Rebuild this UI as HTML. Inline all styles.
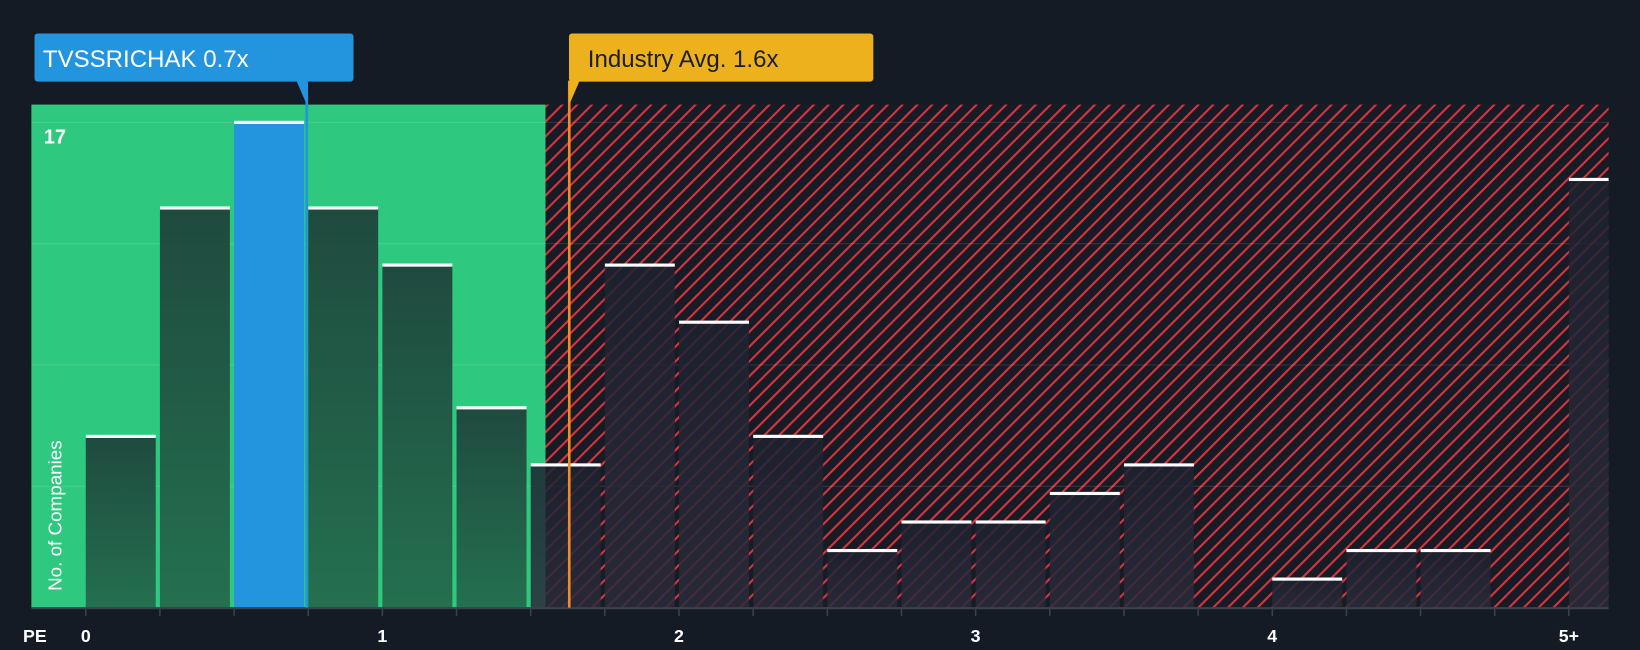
<!DOCTYPE html>
<html><head><meta charset="utf-8"><style>
html,body{margin:0;padding:0;background:#151b24;}
svg{display:block;font-family:"Liberation Sans",sans-serif;}
</style></head><body>
<svg id="c" width="1640" height="650" viewBox="0 0 1568 621.5" preserveAspectRatio="none">
<defs>
<pattern id="hatch" patternUnits="userSpaceOnUse" width="10" height="10" patternTransform="rotate(45)">
<rect width="10" height="10" fill="#171b25"/>
<rect x="0" y="0" width="2" height="10" fill="#d8343c"/>
</pattern>
<linearGradient id="gbar" x1="0" y1="0" x2="0" y2="1"><stop offset="0" stop-color="#1f4a3f"/><stop offset="1" stop-color="#24704f"/></linearGradient>
<linearGradient id="rbar" x1="0" y1="0" x2="0" y2="1"><stop offset="0" stop-color="#1d2230" stop-opacity="0.85"/><stop offset="1" stop-color="#2a2b3a" stop-opacity="0.85"/></linearGradient>
</defs>
<g id="g"></g>
</svg>
<script>
const binStarts = [0,0.25,0.5,0.75,1,1.25,1.5,1.75,2,2.25,2.5,2.75,3,3.25,3.5,3.75,4,4.25,4.5,4.75,5];
const counts = [6,14,17,14,12,7,5,12,10,6,2,3,3,4,5,0,1,2,2,0,15];
const xTicks = [0,1,2,3,4,5];
const xTickLabels = ["0","1","2","3","4","5+"];
const yMax = 17;
const companyPE = 0.745;
const industryPE = 1.63;
const greenLimit = 1.55;

const L=30,R=1538,T=100,B=581;
const X=v=>82+v*283.6;
const Y=v=>B-v*(B-117)/yMax;
const ns="http://www.w3.org/2000/svg";
const g=document.getElementById('g');
function el(t,a,p){const e=document.createElementNS(ns,t);for(const k in a)e.setAttribute(k,a[k]);(p||g).appendChild(e);return e;}

let r=el('rect',{x:L,y:T,width:X(greenLimit)-L,height:B-T,fill:'#2ec97f'});


r=el('rect',{x:X(greenLimit),y:T,width:R-X(greenLimit),height:B-T,fill:'url(#hatch)'});



for(let i=0;i<=4;i++){const v=yMax*i/4;const l=el('line',{x1:L,x2:R,y1:Y(v),y2:Y(v),stroke:'rgba(255,255,255,0.12)','stroke-width':1});

}

const bw=0.25*283.6-4;
binStarts.forEach((s,i)=>{
  const x=X(s), v=counts[i]; if(v<=0) return;
  const w=Math.min(bw,R-x);
  const inGreen=x+bw<=X(greenLimit)+1;
  const isCo = companyPE>=s && companyPE<s+0.25;
  const fill=isCo?'#2394de':(inGreen?'url(#gbar)':'url(#rbar)');
  const b=el('rect',{x:x,y:Y(v),width:w,height:B-Y(v),fill:fill});
  
  
  const c=el('rect',{x:x,y:Y(v)-1.5,width:w,height:3,fill:'#ffffff'});
  
  
});

let t=el('text',{x:42,y:137,fill:'#fff','font-size':19,'font-weight':'bold'});t.textContent=String(yMax);


t=el('text',{x:0,y:0,fill:'#fff','font-size':18,transform:'translate(59,565) rotate(-90)'});t.textContent='No. of Companies';



let ax=el('line',{x1:L,x2:R,y1:B+0.5,y2:B+0.5,stroke:'#3a404c','stroke-width':2});


for(let i=0;i<=20;i++){const tk=el('line',{x1:X(i*0.25),x2:X(i*0.25),y1:B,y2:B+8,stroke:'#3a404c','stroke-width':1.5});

}
xTicks.forEach((v,i)=>{const tx=el('text',{x:X(v),y:614,fill:'#fff','font-size':17,'font-weight':'bold','text-anchor':'middle'});tx.textContent=xTickLabels[i];

});
t=el('text',{x:22,y:614,fill:'#fff','font-size':17,'font-weight':'bold'});t.textContent='PE';



const cx=X(companyPE);
let ln=el('line',{x1:cx,x2:cx,y1:78,y2:B,stroke:'#2394de','stroke-width':2.5});


let bx=el('rect',{x:33,y:32,width:305,height:46,rx:3,fill:'#2394de'});


let pt=el('polygon',{points:`${cx-10},77 ${cx},77 ${cx},100`,fill:'#2394de'});


t=el('text',{x:41,y:64,fill:'#fff','font-size':23});t.textContent='TVSSRICHAK 0.7x';



const ix=X(industryPE);
ln=el('line',{x1:ix,x2:ix,y1:78,y2:B,stroke:'#f58a1f','stroke-width':2.5});


bx=el('rect',{x:544,y:32,width:291,height:46,rx:3,fill:'#ecb11d'});


pt=el('polygon',{points:`${ix-1},77 ${ix+10},77 ${ix},100`,fill:'#ecb11d'});


t=el('text',{x:562,y:64,fill:'#1b1f27','font-size':23});t.textContent='Industry Avg. 1.6x';


</script>
</body></html>
